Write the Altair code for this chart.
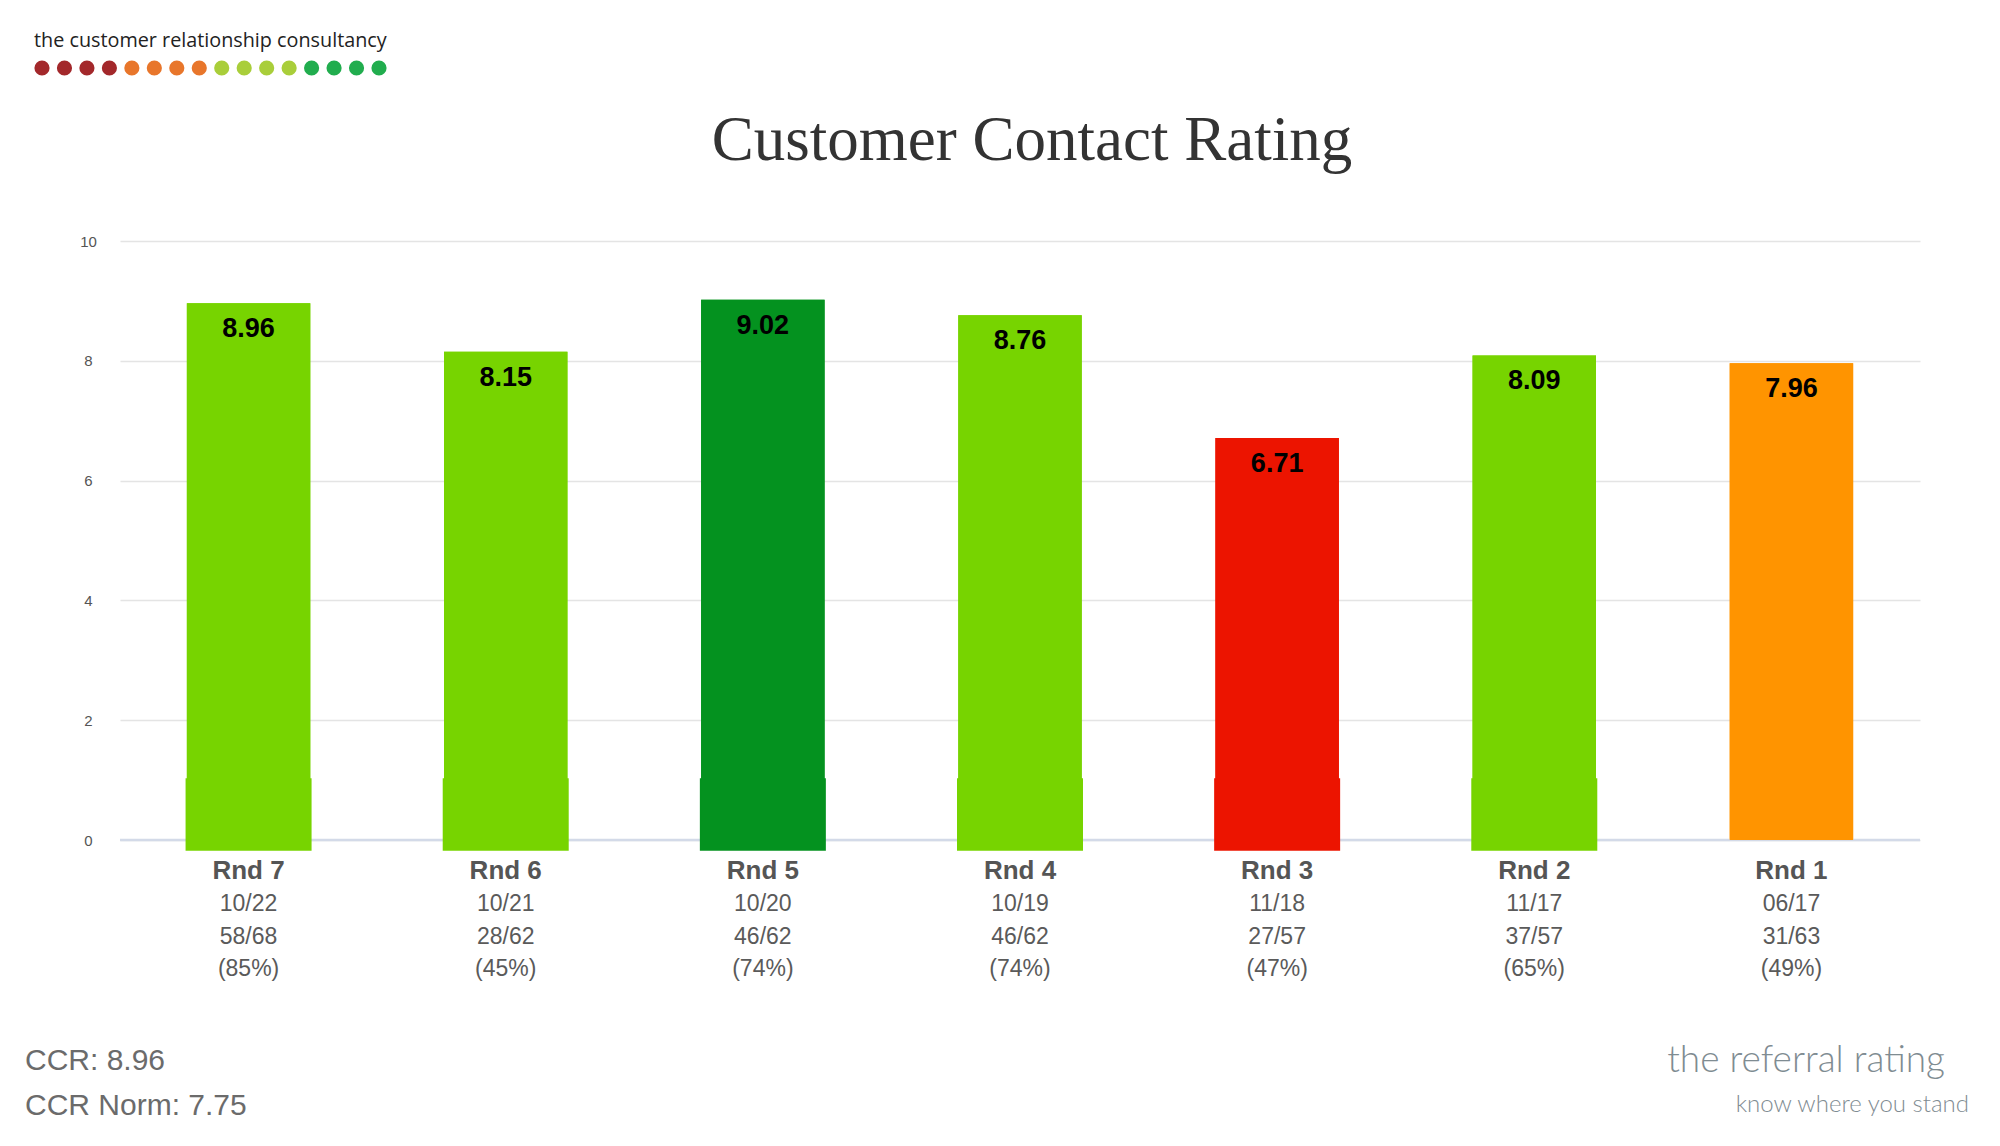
import altair as alt
import pandas as pd

# ---- data ----
rounds = ["Rnd 7", "Rnd 6", "Rnd 5", "Rnd 4", "Rnd 3", "Rnd 2", "Rnd 1"]
scores = [8.96, 8.15, 9.02, 8.76, 6.71, 8.09, 7.96]
dates = ["10/22", "10/21", "10/20", "10/19", "11/18", "11/17", "06/17"]
responses = ["58/68", "28/62", "46/62", "46/62", "27/57", "37/57", "31/63"]
rates = ["(85%)", "(45%)", "(74%)", "(74%)", "(47%)", "(65%)", "(49%)"]
bar_colors = ["#77D400", "#77D400", "#04921F", "#77D400", "#EC1400", "#77D400", "#FF9400"]
has_base = [True, True, True, True, True, True, False]
base_lo, base_hi = -0.18, 1.03
y_ticks = [0, 2, 4, 6, 8, 10]
logo_text = "the customer relationship consultancy"
logo_dot_colors = ["#A3282B"] * 4 + ["#E8762B"] * 4 + ["#A9CE3A"] * 4 + ["#21AD4E"] * 4
title_text = "Customer Contact Rating"
summary_lines = ["CCR: 8.96", "CCR Norm: 7.75"]
brand_main = "the referral rating"
brand_sub = "know where you stand"

df = pd.DataFrame({
    "rnd": rounds,
    "score": scores,
    "color": bar_colors,
    "info": [f"{d}\n{r}\n{p}" for d, r, p in zip(dates, responses, rates)],
    "label": [f"{s:.2f}" for s in scores],
})
base_df = pd.DataFrame({
    "rnd": [r for r, b in zip(rounds, has_base) if b],
    "color": [c for c, b in zip(bar_colors, has_base) if b],
    "lo": [base_lo for b in has_base if b],
    "hi": [base_hi for b in has_base if b],
})
dots_df = pd.DataFrame({"i": list(range(len(logo_dot_colors))), "color": logo_dot_colors})

W, H = 1800, 599
SANS = "Liberation Sans"

xscale = alt.Scale(domain=rounds, paddingInner=0.52, paddingOuter=0.26)
yscale = alt.Scale(domain=[0, 10], nice=False)
X = alt.X("rnd:N", sort=rounds, scale=xscale, axis=None)


def single(text):
    return pd.DataFrame({"t": [text]})


zero_rule = alt.Chart(single("z")).mark_rule(color="#D3DAE8", strokeWidth=2.5).encode(
    y=alt.datum(0, scale=yscale)
)

bars = alt.Chart(df).mark_bar().encode(
    x=X,
    y=alt.Y("score:Q", scale=yscale,
            axis=alt.Axis(values=y_ticks, format="d", title=None, domain=False, ticks=False,
                          labelPadding=32, labelAlign="center", labelFontSize=15,
                          labelFont=SANS, labelColor="#555555",
                          grid=True, gridColor="#E4E4E4", gridWidth=1.5)),
    color=alt.Color("color:N", scale=None),
)

base = alt.Chart(base_df).mark_bar(size=126).encode(
    x=X,
    y=alt.Y("lo:Q", scale=yscale),
    y2="hi:Q",
    color=alt.Color("color:N", scale=None),
)

values = alt.Chart(df).mark_text(font=SANS, fontSize=27, fontWeight="bold", color="#000000",
                                 baseline="middle", dy=26).encode(
    x=X, y=alt.Y("score:Q", scale=yscale), text="label:N"
)

rnd_labels = alt.Chart(df).mark_text(font=SANS, fontSize=26, fontWeight="bold", color="#555555",
                                     baseline="middle").encode(
    x=X, y=alt.value(630), text="rnd:N"
)

info_labels = alt.Chart(df).mark_text(font=SANS, fontSize=23, color="#5A5A5A", baseline="middle",
                                      lineBreak="\n", lineHeight=32.5).encode(
    x=X, y=alt.value(663), text="info:N"
)

title = alt.Chart(single(title_text)).mark_text(font="Liberation Serif", fontSize=63, color="#333333",
                                                baseline="alphabetic", align="center").encode(
    x=alt.value(912), y=alt.value(-81), text="t:N"
)

logo = alt.Chart(single(logo_text)).mark_text(font="Open Sans", fontSize=19.8, color="#222222",
                                              baseline="middle", align="left").encode(
    x=alt.value(-86), y=alt.value(-200), text="t:N"
)

dots = alt.Chart(dots_df).mark_circle(size=230, opacity=1).encode(
    x=alt.X("i:Q", scale=alt.Scale(domain=[0, 15], range=[-78, 259]), axis=None),
    y=alt.value(-173),
    color=alt.Color("color:N", scale=None),
)

summary = alt.Chart(single("\n".join(summary_lines))).mark_text(
    font=SANS, fontSize=30, color="#6B6B6B", baseline="middle", align="left",
    lineBreak="\n", lineHeight=45
).encode(x=alt.value(-95), y=alt.value(820), text="t:N")

brand1 = alt.Chart(single(brand_main)).mark_text(font="Lato", fontSize=37, fontWeight=300,
                                                 color="#7F8C92", baseline="middle", align="right").encode(
    x=alt.value(1825), y=alt.value(820), text="t:N"
)
brand2 = alt.Chart(single(brand_sub)).mark_text(font="Lato", fontSize=24, fontWeight=300,
                                                color="#7F8C92", baseline="middle", align="right").encode(
    x=alt.value(1849), y=alt.value(864), text="t:N"
)

chart = alt.layer(
    bars, zero_rule, base, bars, values, rnd_labels, info_labels,
    title, logo, dots, summary, brand1, brand2
).resolve_scale(x="independent").properties(
    width=W, height=H,
    autosize=alt.AutoSizeParams(type="none"),
    padding={"left": 112, "top": 233, "right": 72, "bottom": 298},
    background="white",
).configure_view(stroke=None)

chart.save("out.html", embed_options={"renderer": "svg", "actions": False})
